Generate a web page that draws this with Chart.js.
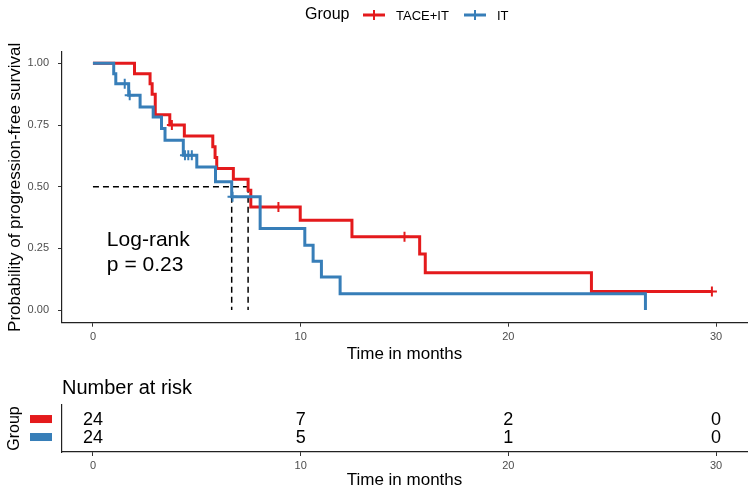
<!DOCTYPE html>
<html>
<head>
<meta charset="utf-8">
<script src="https://cdn.jsdelivr.net/npm/chart.js@4.4.0/dist/chart.umd.min.js"></script>
<style>
    html, body { margin: 0; padding: 0; background: #fff; }
    #wrap { position: relative; width: 750px; height: 491px; }
    canvas { position: absolute; left: 0; }
    #survChart { top: 0; }
    #riskChart { top: 370px; }
</style>
</head>
<body>
<div id="wrap">
    <canvas id="survChart" width="750" height="370"></canvas>
    <canvas id="riskChart" width="750" height="121"></canvas>
</div>
<script>
// 생존 곡선 데이터
const taceTimes = [0, 2.0, 2.75, 2.85, 3.0, 3.7, 4.4, 5.77, 5.88, 5.96, 6.76, 7.47, 7.6, 9.98, 12.47, 15.73, 16.0, 24.0, 29.8];
const taceSurv  = [1, 0.958, 0.917, 0.875, 0.792, 0.75, 0.706, 0.662, 0.618, 0.574, 0.53, 0.486, 0.418, 0.364, 0.297, 0.227, 0.151, 0.075, 0.075];
const taceCensorTimes = [3.8, 8.93, 15.0, 29.8];
const taceCensorSurv  = [0.75, 0.418, 0.297, 0.075];

const itTimes = [0, 1.0, 1.1, 1.72, 2.27, 2.9, 3.3, 3.47, 4.35, 5.0, 5.9, 6.68, 8.05, 10.2, 10.6, 11.0, 11.9, 26.6];
const itSurv  = [1, 0.958, 0.917, 0.871, 0.823, 0.783, 0.736, 0.688, 0.628, 0.58, 0.52, 0.459, 0.331, 0.263, 0.198, 0.134, 0.066, 0];
const itCensorTimes = [1.53, 1.77, 4.43, 4.59, 4.76, 6.72];
const itCensorSurv  = [0.917, 0.871, 0.628, 0.628, 0.628, 0.459];

// 중앙 생존 기간
const taceMedian = 7.47;
const itMedian = 6.68;

// 축 눈금
const timeTicks = [0, 10, 20, 30];
const survTicks = [0, 0.25, 0.5, 0.75, 1];

// 위험 대상자 수
const riskTimes = [0, 10, 20, 30];
const riskTace = [24, 7, 2, 0];
const riskIT = [24, 5, 1, 0];

const pvalLines = ['Log-rank', 'p = 0.23'];

const RED = '#E41A1C';
const BLUE = '#377EB8';
const FONT = "'Liberation Sans', Arial, sans-serif";

Chart.defaults.font.family = FONT;
Chart.defaults.color = '#000';

function toPoints(xs, ys) {
    return xs.map((x, i) => ({ x: x, y: ys[i] }));
}

function dashed(points) {
    return {
        data: points,
        borderColor: '#000',
        borderWidth: 1.5,
        borderDash: [6, 4],
        pointRadius: 0,
        fill: false,
        order: 10
    };
}

// 범례와 p값 텍스트
const survDecor = {
    id: 'survDecor',
    afterDraw(chart) {
        const ctx = chart.ctx;
        const xs = chart.scales.x;
        const ys = chart.scales.y;
        ctx.save();

        // 범례
        const ly = 15;
        ctx.textBaseline = 'middle';
        ctx.textAlign = 'left';
        ctx.fillStyle = '#000';
        ctx.font = '16px ' + FONT;
        ctx.fillText('Group', 305, ly);
        const keys = [
            { color: RED, x0: 363, label: 'TACE+IT' },
            { color: BLUE, x0: 464, label: 'IT' }
        ];
        keys.forEach(k => {
            ctx.strokeStyle = k.color;
            ctx.lineWidth = 3;
            ctx.beginPath();
            ctx.moveTo(k.x0, ly);
            ctx.lineTo(k.x0 + 22, ly);
            ctx.stroke();
            ctx.lineWidth = 2;
            ctx.beginPath();
            ctx.moveTo(k.x0 + 11, ly - 5);
            ctx.lineTo(k.x0 + 11, ly + 5);
            ctx.stroke();
            ctx.fillStyle = '#000';
            ctx.font = '13px ' + FONT;
            ctx.fillText(k.label, k.x0 + 33, ly + 1);
        });

        // p값
        ctx.font = '21px ' + FONT;
        const px = xs.getPixelForValue(0.67);
        const py = ys.getPixelForValue(0.284);
        pvalLines.forEach((t, i) => ctx.fillText(t, px, py + i * 25));
        ctx.restore();
    }
};

const survChart = new Chart(document.getElementById('survChart'), {
    type: 'line',
    data: {
        datasets: [
            {
                label: 'TACE+IT',
                data: toPoints(taceTimes, taceSurv),
                borderColor: RED,
                borderWidth: 3,
                stepped: 'before',
                pointRadius: 0,
                fill: false,
                order: 3
            },
            {
                label: 'IT',
                data: toPoints(itTimes, itSurv),
                borderColor: BLUE,
                borderWidth: 3,
                stepped: 'before',
                pointRadius: 0,
                fill: false,
                order: 2
            },
            {
                type: 'scatter',
                data: toPoints(taceCensorTimes, taceCensorSurv),
                pointStyle: 'cross',
                pointRadius: 5,
                borderColor: RED,
                borderWidth: 2,
                order: 1
            },
            {
                type: 'scatter',
                data: toPoints(itCensorTimes, itCensorSurv),
                pointStyle: 'cross',
                pointRadius: 5,
                borderColor: BLUE,
                borderWidth: 2,
                order: 0
            },
            dashed([{ x: 0, y: 0.5 }, { x: taceMedian, y: 0.5 }]),
            dashed([{ x: itMedian, y: 0.5 }, { x: itMedian, y: 0 }]),
            dashed([{ x: taceMedian, y: 0.5 }, { x: taceMedian, y: 0 }])
        ]
    },
    options: {
        responsive: false,
        animation: false,
        devicePixelRatio: 1,
        layout: { autoPadding: false, padding: { top: 52, right: 3, left: 0, bottom: 0 } },
        plugins: {
            legend: { display: false },
            tooltip: { enabled: false }
        },
        scales: {
            x: {
                type: 'linear',
                min: -1.49,
                max: 31.49,
                afterBuildTicks: s => { s.ticks = timeTicks.map(v => ({ value: v })); },
                afterFit: s => { s.height = 47.3; },
                grid: { drawOnChartArea: false, drawTicks: true, tickLength: 4, color: '#333' },
                border: { display: true, color: '#222', width: 1.2 },
                ticks: { color: '#4D4D4D', font: { size: 11 }, padding: 4, maxRotation: 0 },
                title: {
                    display: true,
                    text: 'Time in months',
                    font: { size: 17 },
                    padding: { top: 0, bottom: 5 }
                }
            },
            y: {
                type: 'linear',
                min: -0.051,
                max: 1.046,
                afterBuildTicks: s => { s.ticks = survTicks.map(v => ({ value: v })); },
                afterFit: s => { s.width = 62; },
                grid: { drawOnChartArea: false, drawTicks: true, tickLength: 4, color: '#333' },
                border: { display: true, color: '#222', width: 1.2 },
                ticks: {
                    color: '#4D4D4D',
                    font: { size: 11 },
                    padding: 9,
                    callback: v => Number(v).toFixed(2)
                },
                title: {
                    display: true,
                    text: 'Probability of progression-free survival',
                    font: { size: 17 },
                    padding: { top: 5, bottom: 0 }
                }
            }
        }
    },
    plugins: [survDecor]
});

// 위험표: 숫자, 색 막대, 제목
const riskDecor = {
    id: 'riskDecor',
    afterDatasetsDraw(chart) {
        const ctx = chart.ctx;
        const ys = chart.scales.y;
        ctx.save();
        ctx.fillStyle = '#000';
        ctx.textAlign = 'left';
        ctx.textBaseline = 'middle';
        ctx.font = '20px ' + FONT;
        ctx.fillText('Number at risk', 62, 18);

        ctx.textAlign = 'center';
        ctx.font = '18px ' + FONT;
        chart.data.datasets.forEach((ds, di) => {
            const meta = chart.getDatasetMeta(di);
            meta.data.forEach((pt, i) => {
                ctx.fillStyle = '#000';
                ctx.fillText(String(ds.data[i].n), pt.x, pt.y + 1);
            });
            const yc = ys.getPixelForValue(ds.data[0].y);
            ctx.fillStyle = ds.keyColor;
            ctx.fillRect(30, yc - 4, 22, 8);
        });
        ctx.restore();
    }
};

const riskChart = new Chart(document.getElementById('riskChart'), {
    type: 'scatter',
    data: {
        datasets: [
            {
                label: 'TACE+IT',
                keyColor: RED,
                data: riskTimes.map((t, i) => ({ x: t, y: 2, n: riskTace[i] })),
                pointRadius: 0
            },
            {
                label: 'IT',
                keyColor: BLUE,
                data: riskTimes.map((t, i) => ({ x: t, y: 1, n: riskIT[i] })),
                pointRadius: 0
            }
        ]
    },
    options: {
        responsive: false,
        animation: false,
        devicePixelRatio: 1,
        layout: { autoPadding: false, padding: { top: 35, right: 3, left: 0, bottom: 0 } },
        plugins: {
            legend: { display: false },
            tooltip: { enabled: false }
        },
        scales: {
            x: {
                type: 'linear',
                min: -1.49,
                max: 31.49,
                afterBuildTicks: s => { s.ticks = timeTicks.map(v => ({ value: v })); },
                afterFit: s => { s.height = 39; },
                grid: { drawOnChartArea: false, drawTicks: true, tickLength: 4, color: '#333' },
                border: { display: true, color: '#222', width: 1.2 },
                ticks: { color: '#4D4D4D', font: { size: 11 }, padding: 3, maxRotation: 0 },
                title: {
                    display: true,
                    text: 'Time in months',
                    font: { size: 17 },
                    padding: { top: 0, bottom: 0 }
                }
            },
            y: {
                type: 'linear',
                min: 0.167,
                max: 2.78,
                afterFit: s => { s.width = 62; },
                grid: { display: false },
                border: { display: true, color: '#222', width: 1.2 },
                ticks: { display: false },
                title: {
                    display: true,
                    text: 'Group',
                    font: { size: 16 },
                    padding: { top: 5, bottom: 0 }
                }
            }
        }
    },
    plugins: [riskDecor]
});
</script>
</body>
</html>
